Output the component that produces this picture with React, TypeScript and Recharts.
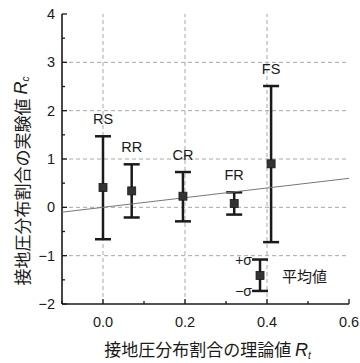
import {
  ComposedChart,
  ErrorBar,
  Label,
  ReferenceLine,
  Scatter,
  XAxis,
  YAxis,
} from "recharts";

// measured cases
const names = ["RS", "RR", "CR", "FR", "FS"];
const theory = [0.0, 0.07, 0.195, 0.32, 0.41];
const mean = [0.41, 0.34, 0.23, 0.08, 0.9];
const upper = [1.47, 0.89, 0.73, 0.31, 2.51];
const lower = [-0.66, -0.21, -0.29, -0.15, -0.72];

// key sample drawn inside the plot
const keyX = 0.383;
const keyMean = -1.41;
const keyUpper = -1.08;
const keyLower = -1.73;
const keyTexts = ["+σ", "−σ", "平均値"];

// y = x reference
const diagX = [-0.1, 0.6];

const xTicks = [-0.1, 0, 0.1, 0.2, 0.3, 0.4, 0.5, 0.6];
const xMajor = [0, 0.2, 0.4, 0.6];
const yTicks = [-2, -1.5, -1, -0.5, 0, 0.5, 1, 1.5, 2, 2.5, 3, 3.5, 4];
const xGrid = [0, 0.2, 0.4];
const yGrid = [-1, 0, 1, 2, 3];

const INK = "#1a1a1a";
const LATIN = "'Liberation Sans', Arial, sans-serif";
const CJK = "'Noto Sans CJK JP', sans-serif";

const points = names.map((n, i) => ({
  name: n,
  x: theory[i],
  y: mean[i],
  err: [mean[i] - lower[i], upper[i] - mean[i]],
}));
const labelPts = names.map((n, i) => ({ name: n, x: theory[i], y: upper[i] }));
const keyPt = [{ x: keyX, y: keyMean, err: [keyMean - keyLower, keyUpper - keyMean] }];
const keyLabelPts = [
  { x: keyX, y: keyUpper, t: keyTexts[0], side: "left" },
  { x: keyX, y: keyLower, t: keyTexts[1], side: "left" },
  { x: keyX, y: keyMean, t: keyTexts[2], side: "right" },
];
const diag = diagX.map((v) => ({ x: v, y: v }));

const isMajorX = (v: number) => xMajor.some((m) => Math.abs(m - v) < 1e-9);
const isMajorY = (v: number) => Math.abs(v - Math.round(v)) < 1e-9;

function BottomTick({ x, y, payload }: any) {
  const major = isMajorX(payload.value);
  return (
    <g>
      <line x1={x} y1={y} x2={x} y2={y - (major ? 5 : 3)} stroke={INK} strokeWidth={1.3} />
      {major && (
        <text x={x} y={y + 23} textAnchor="middle" fontSize={14.5} fontFamily={LATIN} fill={INK}>
          {payload.value.toFixed(1)}
        </text>
      )}
    </g>
  );
}

function TopTick({ x, y, payload }: any) {
  const major = isMajorX(payload.value);
  return <line x1={x} y1={y} x2={x} y2={y + (major ? 5 : 3)} stroke={INK} strokeWidth={1.3} />;
}

function LeftTick({ x, y, payload }: any) {
  const major = isMajorY(payload.value);
  return (
    <g>
      <line x1={x} y1={y} x2={x + (major ? 5 : 3)} y2={y} stroke={INK} strokeWidth={1.3} />
      {major && (
        <text x={x - 7} y={y + 5} textAnchor="end" fontSize={14.5} fontFamily={LATIN} fill={INK}>
          {payload.value < 0 ? `−${Math.abs(payload.value)}` : payload.value}
        </text>
      )}
    </g>
  );
}

function RightTick({ x, y, payload }: any) {
  const major = isMajorY(payload.value);
  return <line x1={x} y1={y} x2={x - (major ? 5 : 3)} y2={y} stroke={INK} strokeWidth={1.3} />;
}

function XTitle({ viewBox }: any) {
  const cx = viewBox.x + viewBox.width / 2 + 2;
  const y = viewBox.y + 52;
  return (
    <text x={cx} y={y} textAnchor="middle" fontSize={17} fontFamily={CJK} fill={INK}>
      接地圧分布割合の理論値{" "}
      <tspan fontFamily={LATIN} fontStyle="italic" fontSize={18}>R</tspan>
      <tspan fontFamily={LATIN} fontStyle="italic" fontSize={10} dy={3}>t</tspan>
    </text>
  );
}

function YTitle({ viewBox }: any) {
  const cx = viewBox.x + 21;
  const cy = viewBox.y + viewBox.height / 2 + 22;
  return (
    <text
      x={cx}
      y={cy}
      transform={`rotate(-90, ${cx}, ${cy})`}
      textAnchor="middle"
      dominantBaseline="central"
      fontSize={17}
      fontFamily={CJK}
      fill={INK}
    >
      接地圧分布割合の実験値{" "}
      <tspan fontFamily={LATIN} fontStyle="italic" fontSize={18}>R</tspan>
      <tspan fontFamily={LATIN} fontStyle="italic" fontSize={10} dy={4}>c</tspan>
    </text>
  );
}

const Square = ({ cx, cy }: any) => (
  <rect x={cx - 4} y={cy - 4} width={8} height={8} fill="#333" stroke={INK} strokeWidth={0.8} />
);

const CaseLabel = ({ cx, cy, payload }: any) => (
  <text x={cx} y={cy - 12} textAnchor="middle" fontSize={14.5} fontFamily={LATIN} fill={INK}>
    {payload.name}
  </text>
);

const KeyLabel = ({ cx, cy, payload }: any) =>
  payload.side === "left" ? (
    <text x={cx - 8} y={cy + 5} textAnchor="end" fontSize={14} fontFamily={LATIN} fill={INK}>
      {payload.t}
    </text>
  ) : (
    <text x={cx + 22} y={cy + 7} textAnchor="start" fontSize={15} fontFamily={CJK} fill={INK}>
      {payload.t}
    </text>
  );

export default function App() {
  return (
    <div style={{ position: "absolute", left: 0, top: 0, width: 360, height: 363, background: "#fff" }}>
      <ComposedChart width={360} height={363} margin={{ top: 14, right: 11, bottom: 0, left: 0 }}>
        <XAxis
          xAxisId="b"
          dataKey="x"
          type="number"
          domain={[-0.1, 0.6]}
          ticks={xTicks}
          allowDataOverflow
          height={59}
          tickSize={0}
          tickMargin={0}
          tickLine={false}
          tick={<BottomTick />}
          axisLine={{ stroke: INK, strokeWidth: 1.6 }}
          interval={0}
        >
          <Label content={<XTitle />} />
        </XAxis>
        <XAxis
          xAxisId="t"
          orientation="top"
          dataKey="x"
          type="number"
          domain={[-0.1, 0.6]}
          ticks={xTicks}
          allowDataOverflow
          height={0}
          tickSize={0}
          tickMargin={0}
          tickLine={false}
          tick={<TopTick />}
          axisLine={{ stroke: INK, strokeWidth: 1.6 }}
          interval={0}
        />
        <YAxis
          yAxisId="l"
          dataKey="y"
          type="number"
          domain={[-2, 4]}
          ticks={yTicks}
          allowDataOverflow
          width={62}
          tickSize={0}
          tickMargin={0}
          tickLine={false}
          tick={<LeftTick />}
          axisLine={{ stroke: INK, strokeWidth: 1.6 }}
          interval={0}
        >
          <Label content={<YTitle />} />
        </YAxis>
        <YAxis
          yAxisId="r"
          orientation="right"
          dataKey="y"
          type="number"
          domain={[-2, 4]}
          ticks={yTicks}
          allowDataOverflow
          width={0}
          tickSize={0}
          tickMargin={0}
          tickLine={false}
          tick={<RightTick />}
          axisLine={{ stroke: INK, strokeWidth: 1.6 }}
          interval={0}
        />

        {xGrid.map((v) => (
          <ReferenceLine
            key={`gx${v}`}
            x={v}
            xAxisId="b"
            yAxisId="l"
            ifOverflow="visible"
            stroke="#a8a8a8"
            strokeDasharray="4 3"
            strokeWidth={1}
          />
        ))}
        {yGrid.map((v) => (
          <ReferenceLine
            key={`gy${v}`}
            y={v}
            xAxisId="b"
            yAxisId="l"
            ifOverflow="visible"
            stroke="#a8a8a8"
            strokeDasharray="4 3"
            strokeWidth={1}
          />
        ))}

        <Scatter
          data={diag}
          xAxisId="b"
          yAxisId="l"
          line={{ stroke: "#777", strokeWidth: 1 }}
          shape={() => null}
          isAnimationActive={false}
        />
        {/* keep the mirrored axes bound to the same domain */}
        <Scatter data={diag} xAxisId="t" yAxisId="r" shape={() => null} isAnimationActive={false} />

        <Scatter data={points} xAxisId="b" yAxisId="l" shape={<Square />} isAnimationActive={false}>
          <ErrorBar dataKey="err" direction="y" width={8} stroke={INK} strokeWidth={2.5} isAnimationActive={false} />
        </Scatter>
        <Scatter data={keyPt} xAxisId="b" yAxisId="l" shape={<Square />} isAnimationActive={false}>
          <ErrorBar dataKey="err" direction="y" width={8} stroke={INK} strokeWidth={2.5} isAnimationActive={false} />
        </Scatter>
        <Scatter data={labelPts} xAxisId="b" yAxisId="l" shape={<CaseLabel />} isAnimationActive={false} />
        <Scatter data={keyLabelPts} xAxisId="b" yAxisId="l" shape={<KeyLabel />} isAnimationActive={false} />
      </ComposedChart>
    </div>
  );
}
